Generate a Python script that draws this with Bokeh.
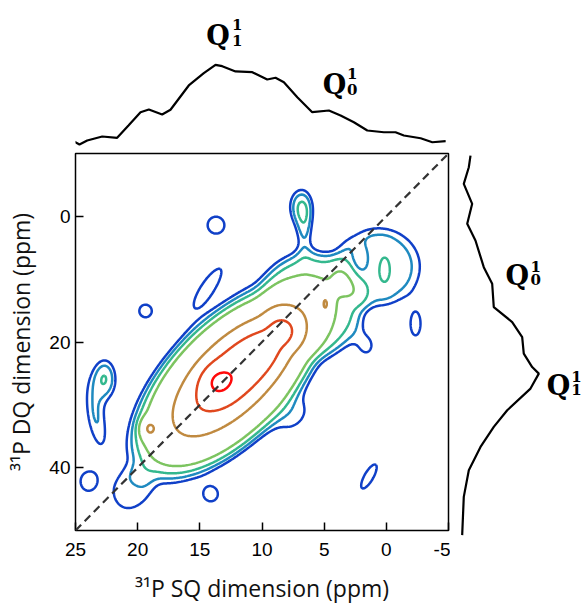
import numpy as np
from bokeh.plotting import figure
from bokeh.models import Range1d, Slope
from bokeh.layouts import column, row
from bokeh.embed import file_html
from bokeh.resources import INLINE
from bokeh.core.properties import value

# ---------------- data ----------------
# top projection (SQ dimension, ppm) -> relative intensity
top_sq = [25.24, 24.68, 24.06, 22.85, 21.65, 20.74, 19.77, 19.10, 18.03, 17.36, 15.89,
          14.68, 13.74, 13.20, 12.13, 10.78, 9.58, 8.91, 8.24, 7.16, 5.96, 4.62, 3.68,
          2.61, 1.53, 0.20, -0.74, -1.41, -2.76, -3.70, -4.77]
top_int = [0.073, 0.024, 0.073, 0.122, 0.106, 0.256, 0.418, 0.451, 0.390, 0.448, 0.744,
           0.894, 0.996, 0.979, 0.915, 0.906, 0.817, 0.838, 0.784, 0.601, 0.418, 0.439, 0.378,
           0.296, 0.195, 0.174, 0.174, 0.134, 0.101, 0.052, 0.065]

# right projection (DQ dimension, ppm) -> relative intensity
right_dq = [-9.70, -7.84, -5.20, -2.02, 1.16, 3.82, 8.06, 10.70, 14.42, 16.80, 19.19,
            21.83, 23.96, 25.01, 27.39, 30.84, 33.49, 36.67, 40.38, 44.63, 50.72]
right_int = [0.150, 0.129, 0.066, 0.171, 0.109, 0.212, 0.316, 0.421, 0.441, 0.671, 0.796,
             0.816, 0.921, 1.004, 0.900, 0.609, 0.441, 0.275, 0.129, 0.066, 0.046]

# 2D spectrum: peak components
# (SQ ppm, DQ ppm, tilt deg, width along, width across, amplitude, line-shape power)
peak_sq    = [12.87, 5.80, 12.23, 7.92, 13.6, 0.6, 2.15, 0.1, 20.6, 19.1, 4.9, 6.9, 6.6,
              22.65, 23.4, 13.7, 14.3, 19.37, 24.0, 14.1, 1.4, -2.35, 1.6, 7.3]
peak_dq    = [26.59, 13.86, 25.03, 18.67, 26.3, 8.0, 7.0, 8.5, 44.0, 33.8, 13.9, -1.6, 2.0,
              25.8, 31.8, 1.4, 11.0, 15.05, 42.2, 44.3, 41.4, 17.06, 20.6, 32.0]
peak_angle = [45, 45, 45, 45, 0, 0, 90, 90, 60, 90, 90, 90, 90,
              90, 100, 0, 55, 0, 90, 0, 60, 90, 90, 45]
peak_w1    = [7.6, 3.5, 5.2, 3.0, 0.9, 3.3, 1.0, 1.19, 2.0, 0.55, 0.5, 1.1, 1.5,
              1.2, 2.2, 0.84, 2.1, 0.67, 1.0, 0.68, 1.36, 1.18, 0.9, 1.5]
peak_w2    = [3.9, 3.8, 2.3, 1.5, 0.9, 3.0, 0.55, 0.5, 1.5, 0.45, 0.2, 0.75, 0.5,
              0.7, 0.65, 0.84, 0.6, 0.67, 0.85, 0.68, 0.45, 0.5, 0.7, 1.0]
peak_amp   = [0.32, 0.15, 0.6, 0.1, 0.16, 0.13, -0.065, 0.04, 0.07, 0.3, 0.32, 0.14, 0.1,
              0.16, 0.11, 0.11, 0.1, 0.105, 0.095, 0.1, 0.11, 0.11, 0.09, 0.075]
peak_power = [6, 6, 2, 2, 2, 6, 2, 2, 4, 2, 2, 2, 2,
              2, 2, 2, 2, 2, 2, 2, 2, 2, 2, 2]

levels = [0.08, 0.115, 0.165, 0.25, 0.58, 0.78, 1.0]
level_colors = ["#1040c8", "#1f8ac0", "#34b88e", "#7cc460", "#c08a40", "#e0481e", "#ff0a0a"]

x_ticks = [25, 20, 15, 10, 5, 0, -5]
y_ticks = [0, 20, 40]

# ---------------- build the 2D field ----------------
sq = np.linspace(-5, 25, 301)
dq = np.linspace(-10, 50, 301)
SQ, DQ = np.meshgrid(sq, dq)
A = SQ
B = DQ / 2.0
Z = np.zeros_like(SQ)
for s0, d0, ang, w1, w2, amp, pw in zip(peak_sq, peak_dq, peak_angle, peak_w1, peak_w2,
                                         peak_amp, peak_power):
    th = np.radians(ang)
    da = A - s0
    db = B - d0 / 2.0
    u = da * np.cos(th) + db * np.sin(th)
    v = -da * np.sin(th) + db * np.cos(th)
    r2 = u ** 2 / w1 ** 2 + v ** 2 / w2 ** 2
    Z += amp * np.exp(-0.5 * r2 ** (pw / 2.0))

LABEL_FONT = "Open Sans"
TICK_FONT = "Liberation Sans"
Q_FONT = "DejaVu Serif"

# ---------------- main contour plot ----------------
main = figure(frame_width=373, frame_height=377, min_border_left=75, min_border_right=2,
              min_border_top=2, min_border_bottom=77,
              x_range=Range1d(25, -5), y_range=Range1d(50, -10),
              output_backend="svg", toolbar_location=None)
main.contour(SQ, DQ, Z, levels, line_color=level_colors, line_width=2.5)
main.add_layout(Slope(gradient=2, y_intercept=0, line_color="#333333", line_width=2.2,
                      line_dash="8 5"))

main.grid.visible = False
main.outline_line_color = "black"
main.outline_line_width = 1.5
for ax in (main.xaxis[0], main.yaxis[0]):
    ax.axis_line_color = None
    ax.major_tick_in = 8
    ax.major_tick_out = 0
    ax.major_tick_line_width = 1.5
    ax.major_tick_line_color = "black"
    ax.minor_tick_line_color = None
    ax.major_label_text_font = TICK_FONT
    ax.major_label_text_font_size = "19px"
    ax.major_label_text_color = "black"
    ax.axis_label_text_font = LABEL_FONT
    ax.axis_label_text_font_size = "23px"
    ax.axis_label_text_font_style = "normal"
    ax.axis_label_text_color = "#111111"
main.xaxis.ticker = x_ticks
main.yaxis.ticker = y_ticks
main.xaxis.major_label_overrides = {t: str(t) for t in x_ticks}
main.yaxis.major_label_overrides = {t: str(t) for t in y_ticks}
main.xaxis.major_label_standoff = 12
main.yaxis.major_label_standoff = 5
main.xaxis.axis_label = "\u00b3\u00b9P SQ dimension (ppm)"
main.yaxis.axis_label = "\u00b3\u00b9P DQ dimension (ppm)"
main.xaxis.axis_label_standoff = 13
main.yaxis.axis_label_standoff = 9

# ---------------- top projection ----------------
top = figure(frame_width=373, frame_height=151, min_border_left=75, min_border_right=2,
             min_border_top=0, min_border_bottom=0,
             x_range=main.x_range, y_range=Range1d(-0.061, 1.780),
             x_axis_location=None, y_axis_location=None,
             output_backend="svg", toolbar_location=None)
top.grid.visible = False
top.outline_line_color = None
top.line(top_sq, top_int, line_color="black", line_width=2.2)
top.text(x=[13.54, 4.17], y=[1.354, 0.757], text=["Q", "Q"], text_font=value(Q_FONT),
         text_font_style="bold", text_font_size="27px", text_align="center",
         text_baseline="alphabetic", text_color="black")
top.text(x=[12.42, 3.16, 12.42, 3.16], y=[1.485, 0.891, 1.297, 0.699],
         text=["1", "1", "1", "0"], text_font=value(Q_FONT), text_font_style="bold",
         text_font_size="15px", text_align="left", text_baseline="alphabetic",
         text_color="black")

# ---------------- right projection ----------------
right = figure(frame_width=133, frame_height=387, min_border_left=0, min_border_right=0,
               min_border_top=2, min_border_bottom=67,
               x_range=Range1d(-0.1, 1.5625), y_range=Range1d(51.57, -10.03),
               x_axis_location=None, y_axis_location=None,
               output_backend="svg", toolbar_location=None)
right.grid.visible = False
right.outline_line_color = None
right.line(right_int, right_dq, line_color="black", line_width=2.2)
right.text(x=[0.734, 1.25], y=[9.4, 26.9], text=["Q", "Q"], text_font=value(Q_FONT),
           text_font_style="bold", text_font_size="27px", text_align="center",
           text_baseline="alphabetic", text_color="black")
right.text(x=[0.9, 0.9, 1.41, 1.41], y=[7.96, 10.08, 25.47, 27.54],
           text=["1", "0", "1", "1"], text_font=value(Q_FONT), text_font_style="bold",
           text_font_size="15px", text_align="left", text_baseline="alphabetic",
           text_color="black")

layout = column(top, row(main, right))
open("out.html", "w").write(file_html(layout, INLINE))
